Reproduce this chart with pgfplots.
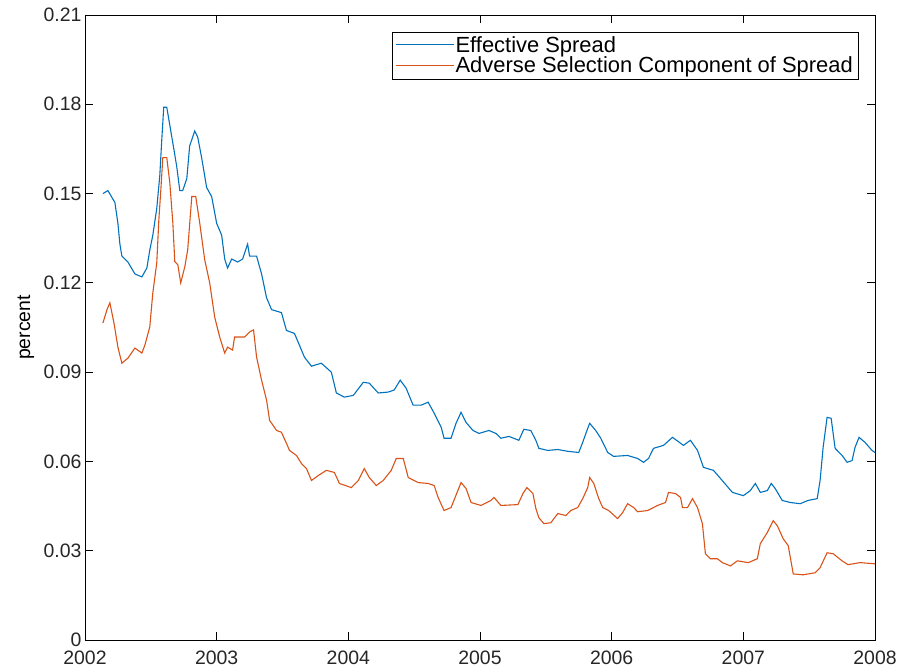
\documentclass[border=0pt]{standalone}
\usepackage{fontspec}
\setmainfont{Liberation Sans}
\usepackage{pgfplots}
\pgfplotsset{compat=1.18}
\definecolor{mblue}{rgb}{0,0.447,0.741}
\definecolor{mred}{rgb}{0.85,0.325,0.098}
\begin{document}
\begin{tikzpicture}
\begin{axis}[
  scale only axis, width=790bp, height=625bp,
  xmin=2002, xmax=2008, ymin=0, ymax=0.21,
  xtick={2002,2003,2004,2005,2006,2007,2008},
  xticklabels={2002,2003,2004,2005,2006,2007,2008},
  ytick={0,0.03,0.06,0.09,0.12,0.15,0.18,0.21},
  yticklabels={0,0.03,0.06,0.09,0.12,0.15,0.18,0.21},
  tick align=inside, major tick length=8bp,
  tick style={black, line width=0.8bp},
  axis line style={black, line width=0.9bp},
  ticklabel style={font=\fontsize{19.5}{20}\selectfont, text=black!85},
  xticklabel style={yshift=-7bp},
  ylabel={percent},
  ylabel style={at={(axis description cs:-0.075,0.5)}, anchor=center, font=\fontsize{19.5}{20}\selectfont},
  legend style={at={(axis description cs:0.9785,0.973)}, anchor=north east,
    draw=black, font=\fontsize{22}{22}\selectfont,
    inner xsep=3bp, inner ysep=2.5bp, row sep=-1bp},
  legend cell align=left,
  legend image code/.code={\node[#1, inner sep=0pt, anchor=west] at (0bp,0bp) {\rule[-0.55bp]{58bp}{1.1bp}};},
]
\addplot[color=mblue, line width=1.1bp] coordinates {
(2002.136,0.150)(2002.174,0.151)(2002.227,0.147)(2002.250,0.140)(2002.265,0.133)
(2002.280,0.129)(2002.326,0.127)(2002.379,0.123)(2002.432,0.122)(2002.470,0.125)
(2002.492,0.131)(2002.515,0.136)(2002.545,0.145)(2002.568,0.156)(2002.583,0.168)
(2002.598,0.179)(2002.621,0.179)(2002.644,0.173)(2002.667,0.167)(2002.697,0.159)
(2002.720,0.151)(2002.742,0.151)(2002.773,0.155)(2002.795,0.166)(2002.833,0.171)
(2002.856,0.169)(2002.886,0.162)(2002.924,0.152)(2002.962,0.149)(2003.000,0.140)
(2003.038,0.136)(2003.061,0.128)(2003.083,0.125)(2003.114,0.128)(2003.159,0.127)
(2003.197,0.128)(2003.235,0.133)(2003.250,0.129)(2003.303,0.129)(2003.341,0.123)
(2003.379,0.115)(2003.417,0.111)(2003.492,0.110)(2003.530,0.104)(2003.591,0.103)
(2003.667,0.095)(2003.720,0.092)(2003.795,0.093)(2003.871,0.090)(2003.909,0.083)
(2003.970,0.0816)(2004.038,0.0822)(2004.114,0.0866)(2004.159,0.0863)(2004.227,0.083)
(2004.303,0.0833)(2004.348,0.084)(2004.394,0.0873)(2004.439,0.0846)(2004.492,0.0789)
(2004.553,0.0789)(2004.606,0.0799)(2004.652,0.0762)(2004.705,0.0715)(2004.727,0.0678)
(2004.780,0.0678)(2004.818,0.0728)(2004.856,0.0765)(2004.894,0.0731)(2004.947,0.0704)
(2004.992,0.0694)(2005.068,0.0704)(2005.121,0.0694)(2005.159,0.0678)(2005.220,0.0684)
(2005.295,0.0671)(2005.333,0.0708)(2005.386,0.0704)(2005.424,0.0671)(2005.447,0.0644)
(2005.515,0.0637)(2005.591,0.0640)(2005.667,0.0634)(2005.750,0.0630)(2005.780,0.0664)
(2005.818,0.0711)(2005.833,0.0728)(2005.879,0.0704)(2005.917,0.0678)(2005.970,0.0630)
(2006.015,0.0617)(2006.121,0.0620)(2006.197,0.0610)(2006.242,0.0597)(2006.280,0.0610)
(2006.318,0.0644)(2006.394,0.0654)(2006.462,0.0681)(2006.545,0.0654)(2006.598,0.0671)
(2006.652,0.0637)(2006.697,0.0580)(2006.773,0.0570)(2006.826,0.0543)(2006.917,0.0496)
(2007.000,0.0485)(2007.053,0.0502)(2007.091,0.0526)(2007.129,0.0496)(2007.182,0.0502)
(2007.212,0.0526)(2007.242,0.0509)(2007.295,0.0469)(2007.356,0.0462)(2007.432,0.0458)
(2007.492,0.0469)(2007.561,0.0475)(2007.583,0.0536)(2007.606,0.0647)(2007.636,0.0748)
(2007.667,0.0745)(2007.697,0.0644)(2007.750,0.0620)(2007.788,0.0597)(2007.826,0.0603)
(2007.848,0.0647)(2007.879,0.0681)(2007.924,0.0664)(2007.977,0.0637)(2008.000,0.0630)
};
\addlegendentry{Effective Spread}
\addplot[color=mred, line width=1.1bp] coordinates {
(2002.136,0.1065)(2002.167,0.111)(2002.189,0.1133)(2002.220,0.1065)(2002.250,0.0984)
(2002.280,0.093)(2002.326,0.0947)(2002.379,0.0981)(2002.432,0.0964)(2002.455,0.0991)
(2002.492,0.1052)(2002.515,0.1166)(2002.545,0.1267)(2002.561,0.1413)(2002.576,0.1513)
(2002.591,0.1621)(2002.621,0.1621)(2002.644,0.1537)(2002.667,0.1402)(2002.682,0.1271)
(2002.705,0.1261)(2002.727,0.120)(2002.758,0.1254)(2002.780,0.1311)(2002.811,0.149)
(2002.841,0.149)(2002.871,0.1402)(2002.909,0.1278)(2002.947,0.120)(2002.985,0.1085)
(2003.023,0.1018)(2003.061,0.0964)(2003.083,0.0984)(2003.121,0.0974)(2003.136,0.1018)
(2003.212,0.1018)(2003.250,0.1035)(2003.280,0.1042)(2003.303,0.0951)(2003.341,0.0873)
(2003.379,0.0806)(2003.402,0.0738)(2003.455,0.0704)(2003.492,0.0698)(2003.530,0.0661)
(2003.553,0.0637)(2003.606,0.062)(2003.644,0.0593)(2003.682,0.0576)(2003.720,0.0536)
(2003.773,0.0553)(2003.833,0.057)(2003.894,0.0563)(2003.932,0.0526)(2004.023,0.0512)
(2004.076,0.0536)(2004.121,0.0576)(2004.159,0.0546)(2004.212,0.0519)(2004.265,0.0536)
(2004.326,0.057)(2004.364,0.061)(2004.417,0.061)(2004.455,0.0546)(2004.530,0.0529)
(2004.606,0.0526)(2004.652,0.0519)(2004.682,0.0479)(2004.727,0.0435)(2004.780,0.0445)
(2004.811,0.0479)(2004.856,0.0529)(2004.894,0.0509)(2004.932,0.0462)(2005.008,0.0452)
(2005.083,0.0469)(2005.106,0.0479)(2005.159,0.0452)(2005.288,0.0455)(2005.326,0.0492)
(2005.356,0.0512)(2005.402,0.0492)(2005.424,0.0442)(2005.447,0.0411)(2005.485,0.0391)
(2005.538,0.0394)(2005.591,0.0425)(2005.652,0.0418)(2005.689,0.0435)(2005.742,0.0445)
(2005.780,0.0475)(2005.818,0.0512)(2005.833,0.0546)(2005.864,0.0526)(2005.902,0.0475)
(2005.932,0.0445)(2005.977,0.0435)(2006.045,0.0408)(2006.083,0.0428)(2006.121,0.0458)
(2006.167,0.0445)(2006.197,0.0431)(2006.273,0.0435)(2006.348,0.0452)(2006.409,0.0462)
(2006.432,0.0496)(2006.485,0.0492)(2006.523,0.0479)(2006.538,0.0445)(2006.576,0.0445)
(2006.614,0.0475)(2006.652,0.0445)(2006.689,0.0391)(2006.712,0.029)(2006.750,0.0273)
(2006.803,0.0273)(2006.841,0.026)(2006.902,0.0249)(2006.955,0.0266)(2007.038,0.026)
(2007.106,0.0273)(2007.129,0.0324)(2007.182,0.0361)(2007.227,0.0401)(2007.258,0.0384)
(2007.303,0.034)(2007.341,0.0317)(2007.379,0.0222)(2007.455,0.0219)(2007.545,0.0226)
(2007.583,0.0243)(2007.636,0.0293)(2007.682,0.029)(2007.750,0.0266)(2007.795,0.0253)
(2007.886,0.026)(2008.000,0.0256)
};
\addlegendentry{Adverse Selection Component of Spread}
\end{axis}
\pgfresetboundingbox
\path (-85bp,-32bp) rectangle (817bp,640bp);
\end{tikzpicture}
\end{document}
